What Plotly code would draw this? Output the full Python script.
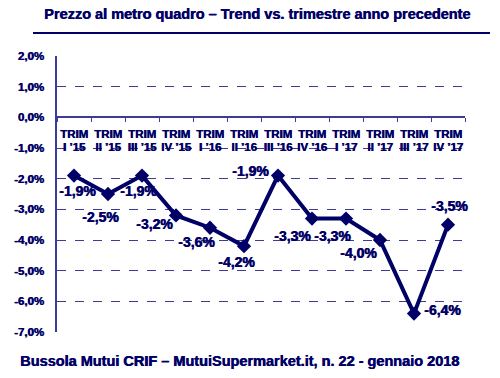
import plotly.graph_objects as go

quarters = ["I ’15", "II ’15", "III ’15", "IV ’15",
            "I ’16", "II ’16", "III ’16", "IV ’16",
            "I ’17", "II ’17", "III ’17", "IV ’17"]
prefix = "TRIM"
values = [-1.9, -2.5, -1.9, -3.2, -3.6, -4.2, -1.9, -3.3, -3.3, -4.0, -6.4, -3.5]
y_ticks = [2, 1, 0, -1, -2, -3, -4, -5, -6, -7]

NAVY = "#000066"
GRID = "#3c3c96"
FONT = "Liberation Sans"
HEAVY = "0.6px 0px 0px #000066"

# label offsets in pixels (style only)
label_dx = [3, -8, -4, -22, -14, -8, -28, -20, -14, -22, 28, 1]
label_dy = [-15, -23, -15, -9, -14, -16, 5, -17, -17, -13, 4, 19]

xs = list(range(len(quarters)))
ymin, ymax = -7, 2
zero_pos = (0 - ymin) / (ymax - ymin)

fig = go.Figure()
fig.add_trace(go.Scatter(
    x=xs, y=values, mode="lines+markers",
    line=dict(color=NAVY, width=4),
    marker=dict(symbol="diamond", size=11, color=NAVY),
    hoverinfo="skip", showlegend=False,
))
fig.add_trace(go.Scatter(x=xs, y=values, xaxis="x2", mode="none", showlegend=False, hoverinfo="skip"))
fig.add_trace(go.Scatter(x=xs, y=values, xaxis="x3", mode="none", showlegend=False, hoverinfo="skip"))

for i, v in enumerate(values):
    fig.add_annotation(
        x=i, y=v, xref="x", yref="y",
        text="<b>" + ("%.1f%%" % v).replace(".", ",") + "</b>", showarrow=False,
        xshift=label_dx[i], yshift=label_dy[i],
        font=dict(family=FONT, size=14, color=NAVY, weight=700, shadow=HEAVY),
    )

tickfont = dict(family=FONT, size=11.5, color=NAVY, weight=700, shadow=HEAVY)

def cat_axis(texts, standoff):
    return dict(
        range=[-0.5, len(quarters) - 0.5], overlaying="x",
        tickmode="array", tickvals=xs, ticktext=texts,
        ticks="", showgrid=False, zeroline=False, showline=False,
        anchor="free", position=zero_pos, side="bottom",
        tickfont=tickfont, ticklabelstandoff=standoff,
    )

fig.update_layout(
    width=500, height=378,
    margin=dict(l=57, r=35, t=56, b=46),
    paper_bgcolor="white", plot_bgcolor="white",
    font=dict(family=FONT, color=NAVY),
    xaxis=dict(
        range=[-0.5, len(quarters) - 0.5],
        tickmode="array", tickvals=[i - 0.5 for i in xs] + [len(xs) - 0.5], ticktext=[""] * (len(xs) + 1),
        ticks="outside", ticklen=4, tickcolor=GRID,
        showgrid=False, zeroline=False,
        showline=True, linecolor=GRID, linewidth=1.5,
        anchor="free", position=zero_pos,
    ),
    xaxis2=cat_axis(["<b>" + prefix + "</b>"] * len(quarters), 8),
    xaxis3=cat_axis(["<b>" + q + "</b>" for q in quarters], 21),
    yaxis=dict(
        range=[ymin, ymax], tickmode="array", tickvals=y_ticks,
        ticktext=["<b>" + ("%.1f%%" % t).replace(".", ",") + "</b>" for t in y_ticks],
        showgrid=True, gridcolor=GRID, griddash="dash", gridwidth=1,
        zeroline=False, showline=True, linecolor=GRID, linewidth=1.5,
        ticks="", ticklabelstandoff=9,
        tickfont=tickfont,
    ),
)

fig.add_annotation(
    xref="paper", yref="paper", x=0.5, y=1, xanchor="center", yanchor="middle",
    yshift=56 - 14, xshift=-4,
    text="<b>Prezzo al metro quadro – Trend vs. trimestre anno precedente</b>", showarrow=False,
    font=dict(family=FONT, size=14.5, color=NAVY, weight=700, shadow=HEAVY),
)
fig.add_shape(type="line", xref="paper", yref="paper", x0=-24/408, x1=433/408,
              y0=1 + 23/276, y1=1 + 23/276, line=dict(color=NAVY, width=2))
fig.add_annotation(
    xref="paper", yref="paper", x=0, y=0, xanchor="left", yanchor="middle",
    xshift=-39, yshift=-29,
    text="<b>Bussola Mutui CRIF – MutuiSupermarket.it, n. 22 - gennaio 2018</b>", showarrow=False,
    font=dict(family=FONT, size=14.5, color=NAVY, weight=700, shadow=HEAVY),
)

fig.write_html("out.html", post_script="document.body.style.margin='0';",
               config={"displayModeBar": False})
